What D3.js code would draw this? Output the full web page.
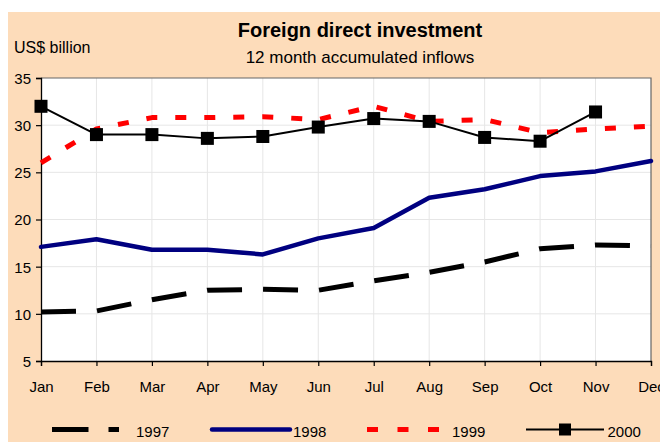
<!DOCTYPE html>
<html>
<head>
<meta charset="utf-8">
<script src="https://cdn.jsdelivr.net/npm/d3@7/dist/d3.min.js"></script>
<style>
  html, body { margin: 0; padding: 0; background: #ffffff; }
  svg { display: block; font-family: "Liberation Sans", Arial, sans-serif; }
</style>
</head>
<body>
<svg id="chart" width="660" height="446"></svg>
<script>
const months = ["Jan","Feb","Mar","Apr","May","Jun","Jul","Aug","Sep","Oct","Nov","Dec"];
const seriesNames = ["1997","1998","1999","2000"];
const v1997 = [10.2, 10.3, 11.5, 12.5, 12.6, 12.5, 13.5, 14.4, 15.5, 16.9, 17.3, 17.2];
const v1998 = [17.1, 17.9, 16.8, 16.8, 16.3, 18.0, 19.1, 22.3, 23.2, 24.6, 25.1, 26.2];
const v1999 = [26.0, 29.6, 30.8, 30.8, 30.9, 30.6, 32.0, 30.4, 30.6, 29.2, 29.6, 29.9];
const v2000 = [32.0, 29.0, 29.0, 28.6, 28.8, 29.8, 30.7, 30.4, 28.7, 28.3, 31.4, null];
const yTicks = [5, 10, 15, 20, 25, 30, 35];

(function () {
const svg = d3.select("#chart");

// background panel
svg.append("rect").attr("x", 8).attr("y", 12).attr("width", 660).attr("height", 430)
  .attr("fill", "#fddcba");

const pL = 41, pR = 651, pT = 78, pB = 361;
const x = d3.scalePoint().domain(months).range([pL, pR]);
const y = d3.scaleLinear().domain([5, 35]).range([pB, pT]);

// plot area
svg.append("rect").attr("x", pL).attr("y", pT).attr("width", pR - pL).attr("height", pB - pT)
  .attr("fill", "#ffffff");

// grid
const grid = svg.append("g");
grid.selectAll("line.h").data(yTicks.filter(d => d > 5 && d < 35)).join("line")
  .attr("class", "h")
  .attr("x1", pL).attr("x2", pR).attr("y1", d => y(d)).attr("y2", d => y(d))
  .attr("stroke", "#e6e6e6").attr("stroke-width", 1);
grid.selectAll("line.v").data(months.slice(1, -1)).join("line")
  .attr("class", "v")
  .attr("x1", d => x(d)).attr("x2", d => x(d)).attr("y1", pT).attr("y2", pB)
  .attr("stroke", "#e6e6e6").attr("stroke-width", 1);

// top/right border
svg.append("path").attr("d", `M${pL},${pT}H${pR}V${pB}`)
  .attr("fill", "none").attr("stroke", "#666666").attr("stroke-width", 1.2);

// axes
const yAxis = svg.append("g").attr("transform", `translate(${pL},0)`)
  .call(d3.axisLeft(y).tickValues(yTicks).tickSize(5).tickPadding(5));
const xAxis = svg.append("g").attr("transform", `translate(0,${pB})`)
  .call(d3.axisBottom(x).tickSize(5).tickPadding(15));
[yAxis, xAxis].forEach(g => {
  g.select(".domain").attr("stroke", "#000").attr("stroke-width", 1.3);
  g.selectAll(".tick line").attr("stroke", "#000").attr("stroke-width", 1.2);
  g.selectAll(".tick text").attr("fill", "#000").attr("font-size", "15px")
    .attr("font-family", "'Liberation Sans', Arial, sans-serif");
});
yAxis.selectAll(".tick text").attr("dy", "0.36em");

// titles
svg.append("text").attr("x", 360).attr("y", 37).attr("text-anchor", "middle")
  .attr("font-size", "20px").attr("font-weight", "bold").attr("fill", "#000")
  .text("Foreign direct investment");
svg.append("text").attr("x", 360).attr("y", 63).attr("text-anchor", "middle")
  .attr("font-size", "17px").attr("fill", "#000")
  .text("12 month accumulated inflows");
svg.append("text").attr("x", 14).attr("y", 53)
  .attr("font-size", "16px").attr("fill", "#000")
  .text("US$ billion");

// series
const styles = {
  "1997": {color: "#000000", width: 5, dash: "35,21", cap: "butt"},
  "1998": {color: "#000080", width: 4.5, dash: null, cap: "round"},
  "1999": {color: "#ff0000", width: 5, dash: "11,18", cap: "butt"},
  "2000": {color: "#000000", width: 2, dash: null, cap: "butt"}
};
const data = {"1997": v1997, "1998": v1998, "1999": v1999, "2000": v2000};

const line = d3.line()
  .defined(d => d.v !== null)
  .x(d => x(d.m)).y(d => y(d.v));

seriesNames.forEach(name => {
  const s = styles[name];
  const pts = months.map((m, i) => ({m, v: data[name][i]}));
  svg.append("path").datum(pts)
    .attr("d", line)
    .attr("fill", "none")
    .attr("stroke", s.color)
    .attr("stroke-width", s.width)
    .attr("stroke-dasharray", s.dash)
    .attr("stroke-linecap", s.cap)
    .attr("stroke-linejoin", "round");
  if (name === "2000") {
    svg.append("g").selectAll("rect").data(pts.filter(d => d.v !== null)).join("rect")
      .attr("x", d => x(d.m) - 6.5).attr("y", d => y(d.v) - 6.5)
      .attr("width", 13).attr("height", 13).attr("fill", "#000");
  }
});

// legend
const legendY = 429.5;
const legend = [
  {name: "1997", x1: 52, x2: 119, tx: 136, dash: "36.5,20"},
  {name: "1998", x1: 212, x2: 290, tx: 293, dash: null},
  {name: "1999", x1: 367, x2: 439, tx: 452, dash: "11,19.5"},
  {name: "2000", x1: 526, x2: 604, tx: 607.5, dash: null}
];
legend.forEach(l => {
  const s = styles[l.name];
  svg.append("line").attr("x1", l.x1).attr("x2", l.x2).attr("y1", legendY).attr("y2", legendY)
    .attr("stroke", s.color).attr("stroke-width", s.width)
    .attr("stroke-dasharray", l.dash).attr("stroke-linecap", s.cap);
  if (l.name === "2000") {
    svg.append("rect").attr("x", (l.x1 + l.x2) / 2 - 6).attr("y", legendY - 6)
      .attr("width", 12).attr("height", 12).attr("fill", "#000");
  }
  svg.append("text").attr("x", l.tx).attr("y", 437).attr("font-size", "15px").attr("fill", "#000")
    .text(l.name);
});
})();
</script>
</body>
</html>
